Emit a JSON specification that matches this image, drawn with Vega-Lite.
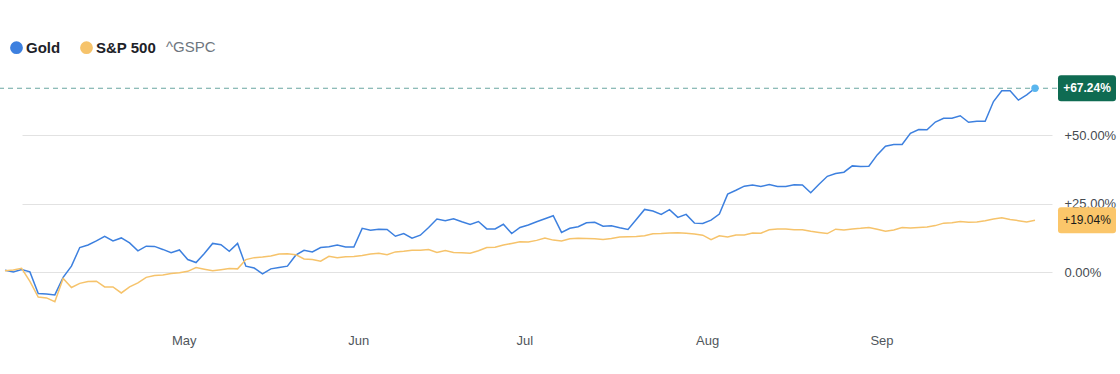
{
  "$schema": "https://vega.github.io/schema/vega-lite/v6.json",
  "width": 1057,
  "height": 252,
  "autosize": {"type": "none"},
  "padding": {"left": 0, "top": 67, "right": 63, "bottom": 55},
  "background": "white",
  "config": {"view": {"stroke": null}, "font": "Liberation Sans, Arial, sans-serif"},
  "data": {"values": [
    {"d":"2025-03-31","Gold":0.8,"sp":0.6},
    {"d":"2025-04-01","Gold":0.2,"sp":0.9},
    {"d":"2025-04-02","Gold":1.1,"sp":1.5},
    {"d":"2025-04-03","Gold":0.2,"sp":-3.3},
    {"d":"2025-04-04","Gold":-7.7,"sp":-9.0},
    {"d":"2025-04-07","Gold":-7.9,"sp":-9.3},
    {"d":"2025-04-08","Gold":-8.2,"sp":-10.7},
    {"d":"2025-04-09","Gold":-1.8,"sp":-2.2},
    {"d":"2025-04-10","Gold":2.3,"sp":-5.5},
    {"d":"2025-04-11","Gold":9.1,"sp":-4.0},
    {"d":"2025-04-14","Gold":10.0,"sp":-3.3},
    {"d":"2025-04-15","Gold":11.5,"sp":-3.2},
    {"d":"2025-04-16","Gold":13.2,"sp":-5.3},
    {"d":"2025-04-17","Gold":11.5,"sp":-5.3},
    {"d":"2025-04-21","Gold":12.6,"sp":-7.5},
    {"d":"2025-04-22","Gold":10.8,"sp":-5.3},
    {"d":"2025-04-23","Gold":7.9,"sp":-3.8},
    {"d":"2025-04-24","Gold":9.6,"sp":-1.8},
    {"d":"2025-04-25","Gold":9.5,"sp":-1.1},
    {"d":"2025-04-28","Gold":8.4,"sp":-0.9},
    {"d":"2025-04-29","Gold":7.2,"sp":-0.4},
    {"d":"2025-04-30","Gold":8.2,"sp":-0.1},
    {"d":"2025-05-01","Gold":4.7,"sp":0.4},
    {"d":"2025-05-02","Gold":3.6,"sp":1.8},
    {"d":"2025-05-05","Gold":6.9,"sp":1.2},
    {"d":"2025-05-06","Gold":10.6,"sp":0.6},
    {"d":"2025-05-07","Gold":10.1,"sp":1.0},
    {"d":"2025-05-08","Gold":7.7,"sp":1.4},
    {"d":"2025-05-09","Gold":10.6,"sp":1.3},
    {"d":"2025-05-12","Gold":2.3,"sp":4.7},
    {"d":"2025-05-13","Gold":1.6,"sp":5.4},
    {"d":"2025-05-14","Gold":-0.5,"sp":5.6},
    {"d":"2025-05-15","Gold":1.3,"sp":6.0},
    {"d":"2025-05-16","Gold":1.8,"sp":6.7},
    {"d":"2025-05-19","Gold":2.3,"sp":6.8},
    {"d":"2025-05-20","Gold":6.3,"sp":6.5},
    {"d":"2025-05-21","Gold":8.1,"sp":4.9},
    {"d":"2025-05-22","Gold":7.5,"sp":4.7},
    {"d":"2025-05-23","Gold":9.1,"sp":4.1},
    {"d":"2025-05-27","Gold":9.4,"sp":5.9},
    {"d":"2025-05-28","Gold":10.0,"sp":5.4},
    {"d":"2025-05-29","Gold":9.3,"sp":5.7},
    {"d":"2025-05-30","Gold":9.3,"sp":5.8},
    {"d":"2025-06-02","Gold":16.1,"sp":6.2},
    {"d":"2025-06-03","Gold":15.4,"sp":6.7},
    {"d":"2025-06-04","Gold":15.8,"sp":7.0},
    {"d":"2025-06-05","Gold":15.7,"sp":6.5},
    {"d":"2025-06-06","Gold":13.2,"sp":7.5},
    {"d":"2025-06-09","Gold":14.2,"sp":7.7},
    {"d":"2025-06-10","Gold":12.5,"sp":8.1},
    {"d":"2025-06-11","Gold":13.6,"sp":8.1},
    {"d":"2025-06-12","Gold":16.4,"sp":8.4},
    {"d":"2025-06-13","Gold":19.5,"sp":7.3},
    {"d":"2025-06-16","Gold":18.9,"sp":8.0},
    {"d":"2025-06-17","Gold":19.6,"sp":7.3},
    {"d":"2025-06-18","Gold":18.5,"sp":7.2},
    {"d":"2025-06-20","Gold":17.5,"sp":7.0},
    {"d":"2025-06-23","Gold":18.6,"sp":7.9},
    {"d":"2025-06-24","Gold":15.9,"sp":9.1},
    {"d":"2025-06-25","Gold":15.9,"sp":9.2},
    {"d":"2025-06-26","Gold":17.6,"sp":10.0},
    {"d":"2025-06-27","Gold":14.2,"sp":10.6},
    {"d":"2025-06-30","Gold":16.4,"sp":11.2},
    {"d":"2025-07-01","Gold":17.3,"sp":11.1},
    {"d":"2025-07-02","Gold":18.5,"sp":11.7},
    {"d":"2025-07-03","Gold":19.6,"sp":12.6},
    {"d":"2025-07-07","Gold":20.7,"sp":11.8},
    {"d":"2025-07-08","Gold":14.6,"sp":11.5},
    {"d":"2025-07-09","Gold":16.1,"sp":12.3},
    {"d":"2025-07-10","Gold":16.7,"sp":12.5},
    {"d":"2025-07-11","Gold":18.1,"sp":12.4},
    {"d":"2025-07-14","Gold":18.3,"sp":12.3},
    {"d":"2025-07-15","Gold":16.9,"sp":12.0},
    {"d":"2025-07-16","Gold":17.0,"sp":12.4},
    {"d":"2025-07-17","Gold":16.3,"sp":12.9},
    {"d":"2025-07-18","Gold":15.7,"sp":13.0},
    {"d":"2025-07-21","Gold":19.3,"sp":13.1},
    {"d":"2025-07-22","Gold":23.0,"sp":13.4},
    {"d":"2025-07-23","Gold":22.4,"sp":14.1},
    {"d":"2025-07-24","Gold":21.2,"sp":14.2},
    {"d":"2025-07-25","Gold":22.9,"sp":14.4},
    {"d":"2025-07-28","Gold":20.1,"sp":14.5},
    {"d":"2025-07-29","Gold":21.2,"sp":14.3},
    {"d":"2025-07-30","Gold":18.0,"sp":14.0},
    {"d":"2025-07-31","Gold":17.9,"sp":13.6},
    {"d":"2025-08-01","Gold":19.1,"sp":12.0},
    {"d":"2025-08-04","Gold":21.3,"sp":13.4},
    {"d":"2025-08-05","Gold":28.6,"sp":12.9},
    {"d":"2025-08-06","Gold":30.0,"sp":13.7},
    {"d":"2025-08-07","Gold":31.5,"sp":13.7},
    {"d":"2025-08-08","Gold":31.9,"sp":14.4},
    {"d":"2025-08-11","Gold":31.4,"sp":14.3},
    {"d":"2025-08-12","Gold":32.1,"sp":15.6},
    {"d":"2025-08-13","Gold":31.4,"sp":15.9},
    {"d":"2025-08-14","Gold":31.4,"sp":15.9},
    {"d":"2025-08-15","Gold":32.0,"sp":15.6},
    {"d":"2025-08-18","Gold":31.9,"sp":15.6},
    {"d":"2025-08-19","Gold":29.1,"sp":15.0},
    {"d":"2025-08-20","Gold":32.2,"sp":14.6},
    {"d":"2025-08-21","Gold":35.1,"sp":14.2},
    {"d":"2025-08-22","Gold":36.1,"sp":15.8},
    {"d":"2025-08-25","Gold":36.6,"sp":15.5},
    {"d":"2025-08-26","Gold":38.9,"sp":15.9},
    {"d":"2025-08-27","Gold":38.7,"sp":16.1},
    {"d":"2025-08-28","Gold":38.8,"sp":16.4},
    {"d":"2025-08-29","Gold":42.9,"sp":15.8},
    {"d":"2025-09-02","Gold":46.1,"sp":15.0},
    {"d":"2025-09-03","Gold":46.7,"sp":15.5},
    {"d":"2025-09-04","Gold":46.7,"sp":16.4},
    {"d":"2025-09-05","Gold":50.8,"sp":16.2},
    {"d":"2025-09-08","Gold":52.2,"sp":16.4},
    {"d":"2025-09-09","Gold":52.1,"sp":16.6},
    {"d":"2025-09-10","Gold":54.9,"sp":17.1},
    {"d":"2025-09-11","Gold":56.3,"sp":18.0},
    {"d":"2025-09-12","Gold":56.3,"sp":18.1},
    {"d":"2025-09-15","Gold":57.2,"sp":18.6},
    {"d":"2025-09-16","Gold":54.8,"sp":18.3},
    {"d":"2025-09-17","Gold":55.2,"sp":18.4},
    {"d":"2025-09-18","Gold":55.2,"sp":18.9},
    {"d":"2025-09-19","Gold":62.4,"sp":19.5},
    {"d":"2025-09-22","Gold":66.3,"sp":20.0},
    {"d":"2025-09-23","Gold":66.3,"sp":19.3},
    {"d":"2025-09-24","Gold":62.9,"sp":18.9},
    {"d":"2025-09-25","Gold":64.8,"sp":18.4},
    {"d":"2025-09-26","Gold":67.24,"sp":19.04}
  ]},
  "transform": [{"fold": ["Gold", "sp"], "as": ["series", "value"]}],
  "encoding": {
    "x": {
      "field": "d", "type": "ordinal",
      "scale": {"type": "point", "padding": 0, "range": [5, 1035]},
      "axis": {
        "title": null,
        "values": ["2025-05-01", "2025-06-02", "2025-07-01", "2025-08-01", "2025-09-02"],
        "labelExpr": "utcFormat(toDate(datum.value), '%b')",
        "labelAngle": 0,
        "domain": false, "ticks": false, "grid": false,
        "labelPadding": 15, "labelOffset": -4,
        "labelFontSize": 13, "labelColor": "#50565c"
      }
    },
    "y": {
      "field": "value", "type": "quantitative",
      "scale": {"domain": [-17, 75], "nice": false, "zero": false},
      "axis": {
        "orient": "right", "title": null,
        "values": [0, 25, 50],
        "labelExpr": "(datum.value > 0 ? '+' : '') + format(datum.value, '.2f') + '%'",
        "domain": false, "ticks": false, "grid": true,
        "gridColor": "#e2e2e2", "gridWidth": 1,
        "labelPadding": 7, "labelAlign": "left", "labelBaseline": "middle",
        "labelFontSize": 13, "labelColor": "#464b50"
      }
    }
  },
  "layer": [
    {
      "transform": [{"filter": "datum.series == 'Gold' && datum.d == '2025-09-26'"}],
      "mark": {"type": "rule", "color": "#6aa7a1", "strokeDash": [5, 4], "strokeWidth": 1},
      "encoding": {"x": null}
    },
    {
      "mark": {"type": "line", "strokeWidth": 1.5, "interpolate": "linear"},
      "encoding": {
        "color": {
          "field": "series", "type": "nominal",
          "scale": {"domain": ["Gold", "sp"], "range": ["#3d80df", "#f6c36b"]},
          "legend": {
            "orient": "none", "legendX": 9, "legendY": -27,
            "direction": "horizontal",
            "title": "^GSPC", "titleOrient": "right", "titlePadding": 10,
            "titleFontSize": 15, "titleFontWeight": "normal", "titleColor": "#6e767e",
            "titleBaseline": "alphabetic",
            "labelExpr": "datum.label == 'sp' ? 'S&P 500' : datum.label",
            "labelFontSize": 15, "labelFontWeight": "bold", "labelColor": "#1d2228",
            "labelOffset": 2, "columnPadding": 9,
            "symbolType": "circle", "symbolSize": 40, "symbolStrokeWidth": 6.5,
            "symbolOpacity": 1,
            "padding": 0
          }
        }
      }
    },
    {
      "transform": [{"filter": "datum.series == 'Gold' && datum.d == '2025-09-26'"}],
      "mark": {"type": "circle", "size": 55, "color": "#5ab6ee", "opacity": 1}
    },
    {
      "transform": [{"filter": "datum.series == 'Gold' && datum.d == '2025-09-26'"}],
      "mark": {
        "type": "point", "filled": true, "opacity": 1, "color": "#0f6b52", "size": 3364, "xOffset": 52,
        "shape": "M-0.897,-0.448 L0.897,-0.448 Q1,-0.448 1,-0.345 L1,0.345 Q1,0.448 0.897,0.448 L-0.897,0.448 Q-1,0.448 -1,0.345 L-1,-0.345 Q-1,-0.448 -0.897,-0.448 Z"
      }
    },
    {
      "transform": [{"filter": "datum.series == 'Gold' && datum.d == '2025-09-26'"}],
      "mark": {
        "type": "text", "xOffset": 52, "color": "#ffffff", "fontSize": 12, "fontWeight": "bold",
        "align": "center", "baseline": "middle",
        "text": {"expr": "'+' + format(datum.value, '.2f') + '%'"}
      }
    },
    {
      "transform": [{"filter": "datum.series == 'sp' && datum.d == '2025-09-26'"}],
      "mark": {
        "type": "point", "filled": true, "opacity": 1, "color": "#fbc66a", "size": 3364, "xOffset": 52,
        "shape": "M-0.897,-0.448 L0.897,-0.448 Q1,-0.448 1,-0.345 L1,0.345 Q1,0.448 0.897,0.448 L-0.897,0.448 Q-1,0.448 -1,0.345 L-1,-0.345 Q-1,-0.448 -0.897,-0.448 Z"
      }
    },
    {
      "transform": [{"filter": "datum.series == 'sp' && datum.d == '2025-09-26'"}],
      "mark": {
        "type": "text", "xOffset": 52, "color": "#1a1a1a", "fontSize": 12, "fontWeight": "normal",
        "align": "center", "baseline": "middle",
        "text": {"expr": "'+' + format(datum.value, '.2f') + '%'"}
      }
    }
  ]
}
